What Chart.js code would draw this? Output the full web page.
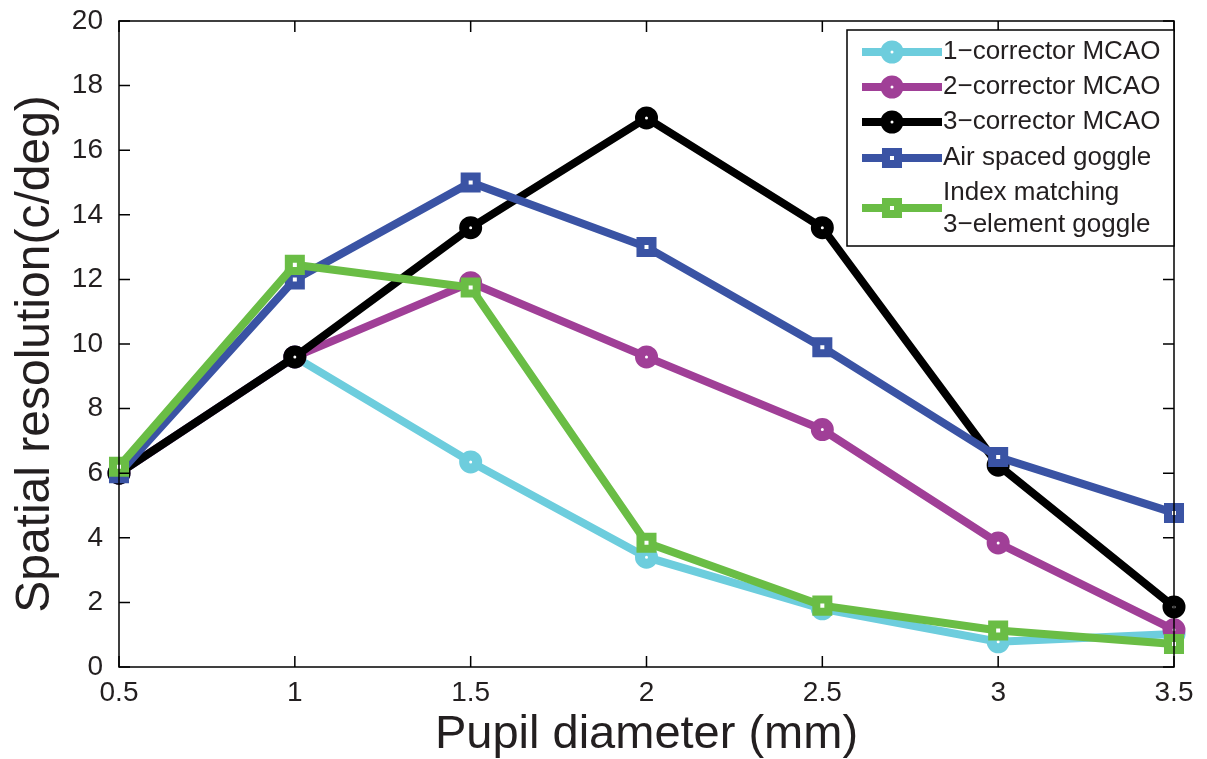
<!DOCTYPE html>
<html>
<head>
<meta charset="utf-8">
<script src="https://cdn.jsdelivr.net/npm/chart.js@4/dist/chart.umd.min.js"></script>
<style>
  html, body { margin: 0; padding: 0; background: #fff; }
  #wrap { width: 1207px; height: 759px; position: relative; }
</style>
</head>
<body>
<div id="wrap"><canvas id="myChart" width="1207" height="759"></canvas></div>
<script>
// pupil diameter (mm)
const pupil = [0.5, 1, 1.5, 2, 2.5, 3, 3.5];

// spatial resolution (c/deg)
const oneCorrector   = [6.0, 9.6, 6.35, 3.4, 1.8, 0.78, 1.02];
const twoCorrector   = [6.0, 9.6, 11.9, 9.6, 7.35, 3.84, 1.15];
const threeCorrector = [6.0, 9.6, 13.6, 17.0, 13.6, 6.25, 1.86];
const airGoggle      = [6.0, 12.0, 15.0, 13.0, 9.9, 6.5, 4.77];
const indexGoggle    = [6.2, 12.45, 11.75, 3.85, 1.9, 1.13, 0.71];

const xTicks = [0.5, 1, 1.5, 2, 2.5, 3, 3.5];
const yTicks = [0, 2, 4, 6, 8, 10, 12, 14, 16, 18, 20];

const seriesNames = ['1\u2212corrector MCAO', '2\u2212corrector MCAO', '3\u2212corrector MCAO',
  'Air spaced goggle', 'Index matching\n3\u2212element goggle'];
const yTitle = 'Spatial resolution(c/deg)';

const FONT = '"Liberation Sans", Arial, Helvetica, sans-serif';
const TEXT = '#231f20';

function pts(ys) {
  return ys.map((y, i) => ({ x: pupil[i], y: y }));
}

// MATLAB-like thick-edged markers: almost solid with a tiny hole
function makeSet(label, ys, color, shape, order) {
  const circle = shape === 'circle';
  return {
    label: label,
    data: pts(ys),
    borderColor: color,
    backgroundColor: color,
    borderWidth: 8,
    pointStyle: shape,
    pointRadius: circle ? 6.5 : 8.5,
    pointBorderWidth: circle ? 10 : 8,
    pointBorderColor: color,
    pointBackgroundColor: '#ffffff',
    order: order,
    tension: 0
  };
}

// inward tick marks on all four sides, y title, legend box
const matlabBox = {
  id: 'matlabBox',
  afterDraw(chart) {
    const ctx = chart.ctx;
    const a = chart.chartArea;
    const xs = chart.scales.x, ys = chart.scales.y;
    ctx.save();
    ctx.strokeStyle = '#000';
    ctx.lineWidth = 1.5;
    ctx.strokeRect(a.left, a.top, a.right - a.left, a.bottom - a.top);
    const tl = 11;
    ctx.beginPath();
    xTicks.forEach(v => {
      const p = xs.getPixelForValue(v);
      ctx.moveTo(p, a.bottom); ctx.lineTo(p, a.bottom - tl);
      ctx.moveTo(p, a.top); ctx.lineTo(p, a.top + tl);
    });
    yTicks.forEach(v => {
      const p = ys.getPixelForValue(v);
      ctx.moveTo(a.left, p); ctx.lineTo(a.left + tl, p);
      ctx.moveTo(a.right, p); ctx.lineTo(a.right - tl, p);
    });
    ctx.stroke();

    // y axis title
    ctx.save();
    ctx.translate(49, 354);
    ctx.rotate(-Math.PI / 2);
    ctx.font = '48px ' + FONT;
    ctx.fillStyle = TEXT;
    ctx.textAlign = 'center';
    ctx.textBaseline = 'alphabetic';
    ctx.fillText(yTitle, 0, 0);
    ctx.restore();

    // legend
    const bx = 847, by = 30, bw = a.right - 847, bh = 216;
    ctx.fillStyle = '#fff';
    ctx.fillRect(bx, by, bw, bh);
    ctx.strokeRect(bx, by, bw, bh);
    const rows = [52, 87, 122, 158, 208];
    ctx.font = '26px ' + FONT;
    ctx.textBaseline = 'middle';
    chart.data.datasets.forEach((ds, i) => {
      const cy = rows[i];
      ctx.strokeStyle = ds.borderColor;
      ctx.lineWidth = 8;
      ctx.beginPath();
      ctx.moveTo(862, cy); ctx.lineTo(942, cy);
      ctx.stroke();
      ctx.lineWidth = ds.pointBorderWidth;
      ctx.fillStyle = '#fff';
      ctx.beginPath();
      if (ds.pointStyle === 'circle') {
        ctx.arc(892, cy, ds.pointRadius, 0, Math.PI * 2);
      } else {
        const h = ds.pointRadius * Math.SQRT1_2;
        ctx.rect(892 - h, cy - h, 2 * h, 2 * h);
      }
      ctx.fill();
      ctx.stroke();
      ctx.fillStyle = TEXT;
      const lines = ds.label.split('\n');
      if (lines.length === 1) {
        ctx.fillText(lines[0], 943, cy);
      } else {
        ctx.fillText(lines[0], 943, cy - 15);
        ctx.fillText(lines[1], 943, cy + 17);
      }
    });
    ctx.restore();
  }
};

const ctx = document.getElementById('myChart').getContext('2d');
const chart = new Chart(ctx, {
  type: 'line',
  data: {
    datasets: [
      makeSet(seriesNames[0], oneCorrector, '#6dcddd', 'circle', 5),
      makeSet(seriesNames[1], twoCorrector, '#a03f97', 'circle', 4),
      makeSet(seriesNames[2], threeCorrector, '#000000', 'circle', 3),
      makeSet(seriesNames[3], airGoggle, '#3a53a4', 'rect', 2),
      makeSet(seriesNames[4], indexGoggle, '#6abd45', 'rect', 1)
    ]
  },
  options: {
    responsive: false,
    animation: false,
    clip: false,
    layout: { padding: { left: 0, top: 21, right: 33, bottom: 0 } },
    plugins: {
      legend: { display: false },
      tooltip: { enabled: false }
    },
    scales: {
      x: {
        type: 'linear',
        min: 0.5,
        max: 3.5,
        afterBuildTicks: s => { s.ticks = xTicks.map(v => ({ value: v })); },
        afterFit: s => { s.height = 92; s.paddingLeft = 0; s.paddingRight = 0; },
        grid: { display: false, drawTicks: false },
        border: { display: false },
        ticks: {
          padding: 9,
          color: TEXT,
          font: { family: FONT, size: 28 },
          callback: v => String(v)
        },
        title: {
          display: true,
          text: 'Pupil diameter (mm)',
          color: TEXT,
          font: { family: FONT, size: 47, lineHeight: 1 },
          padding: { top: 0, bottom: 0 }
        }
      },
      y: {
        type: 'linear',
        min: 0,
        max: 20,
        afterBuildTicks: s => { s.ticks = yTicks.map(v => ({ value: v })); },
        afterFit: s => { s.width = 119; s.paddingTop = 0; s.paddingBottom = 0; },
        grid: { display: false, drawTicks: false },
        border: { display: false },
        ticks: {
          padding: 16,
          color: TEXT,
          font: { family: FONT, size: 28 }
        }
      }
    }
  },
  plugins: [matlabBox]
});
</script>
</body>
</html>
